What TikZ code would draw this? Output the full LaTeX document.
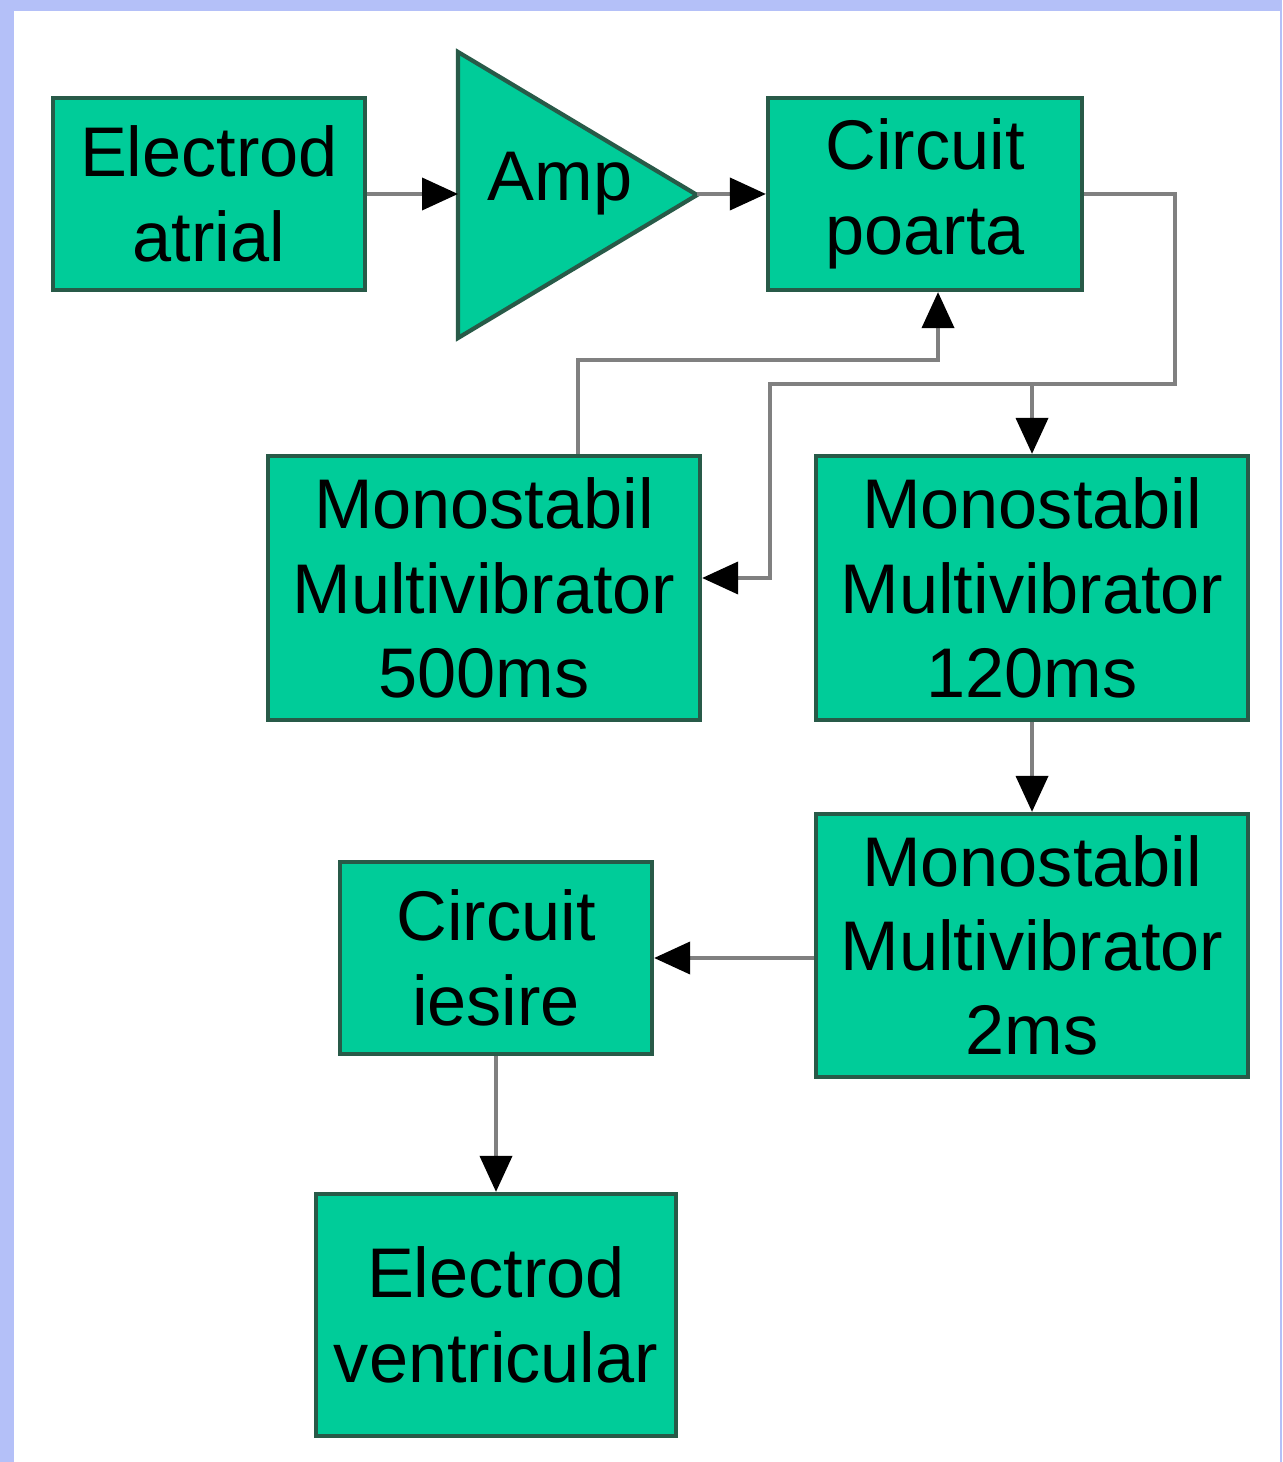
\documentclass[tikz,border=0pt]{standalone}
\usepackage{fontspec}
\setmainfont{Liberation Sans}
\usepackage{xcolor}
\definecolor{pmgreen}{RGB}{0,204,153}
\definecolor{pmedge}{RGB}{40,90,72}
\definecolor{pmgray}{RGB}{128,128,128}
\definecolor{pmframe}{RGB}{180,192,248}
\usetikzlibrary{arrows.meta,positioning,calc}

\begin{document}
\begin{tikzpicture}[
  pmbox/.style={draw=pmedge,fill=pmgreen,line width=1.2pt,align=center,inner sep=0pt,
    font=\fontsize{20}{24}\selectfont},
  pmarrow/.style={draw=pmgray,line width=1.1pt,-{Triangle[length=3.6mm,width=3.2mm,black]}}
]
  % frame and page
  \fill[pmframe] (0,0) rectangle (12.82,-14.62);
  \fill[white] (0.14,-0.11) rectangle (12.80,-14.62);
  \useasboundingbox (0,0) rectangle (12.82,-14.62);

  % input chain
  \node[pmbox,minimum width=3.12cm,minimum height=1.92cm] (eatrial) at (2.09,-1.94) {Electrod\\atrial};
  \draw[draw=pmedge,fill=pmgreen,line width=1.2pt] (4.58,-0.52) -- (6.97,-1.95) -- (4.58,-3.38) -- cycle;
  \coordinate (ampin) at (4.58,-1.94);
  \coordinate (ampout) at (6.97,-1.94);
  \node[font=\fontsize{20}{24}\selectfont] (amp) at (5.60,-1.84) {Amp};
  \node[pmbox,minimum width=3.14cm,minimum height=1.92cm] (poarta) at (9.25,-1.94) {Circuit\\poarta};

  % monostables
  \node[pmbox,minimum width=4.32cm,minimum height=2.64cm] (mono500) at (4.84,-5.88) {Monostabil\\Multivibrator\\500ms};
  \node[pmbox,minimum width=4.32cm,minimum height=2.64cm] (mono120) at (10.32,-5.88) {Monostabil\\Multivibrator\\120ms};
  \node[pmbox,minimum width=4.32cm,minimum height=2.63cm] (mono2) at (10.32,-9.455) {Monostabil\\Multivibrator\\2ms};

  % output chain
  \node[pmbox,minimum width=3.12cm,minimum height=1.92cm] (iesire) at (4.96,-9.58) {Circuit\\iesire};
  \node[pmbox,minimum width=3.60cm,minimum height=2.42cm] (eventr) at (4.96,-13.15) {Electrod\\ventricular};

  % connectors
  \coordinate (split) at (11.75,-3.84);
  \coordinate (fb) at (5.78,-3.60);
  \coordinate (fbup) at (9.38,-3.60);
  \coordinate (back) at (7.70,-5.78);
  \draw[pmarrow] (eatrial) -- (ampin);
  \draw[pmarrow] (ampout) -- (poarta);
  \draw[pmarrow] (poarta.east) -| (split) -| (mono120.north);
  \draw[pmarrow] (split) -| (back) -- (back -| mono500.east);
  \draw[pmarrow] (fb |- mono500.north) -- (fb) -- (fbup) -- (fbup |- poarta.south);
  \draw[pmarrow] (mono120) -- (mono2);
  \draw[pmarrow] (mono2.west |- iesire.east) -- (iesire.east);
  \draw[pmarrow] (iesire) -- (eventr);
\end{tikzpicture}
\end{document}
